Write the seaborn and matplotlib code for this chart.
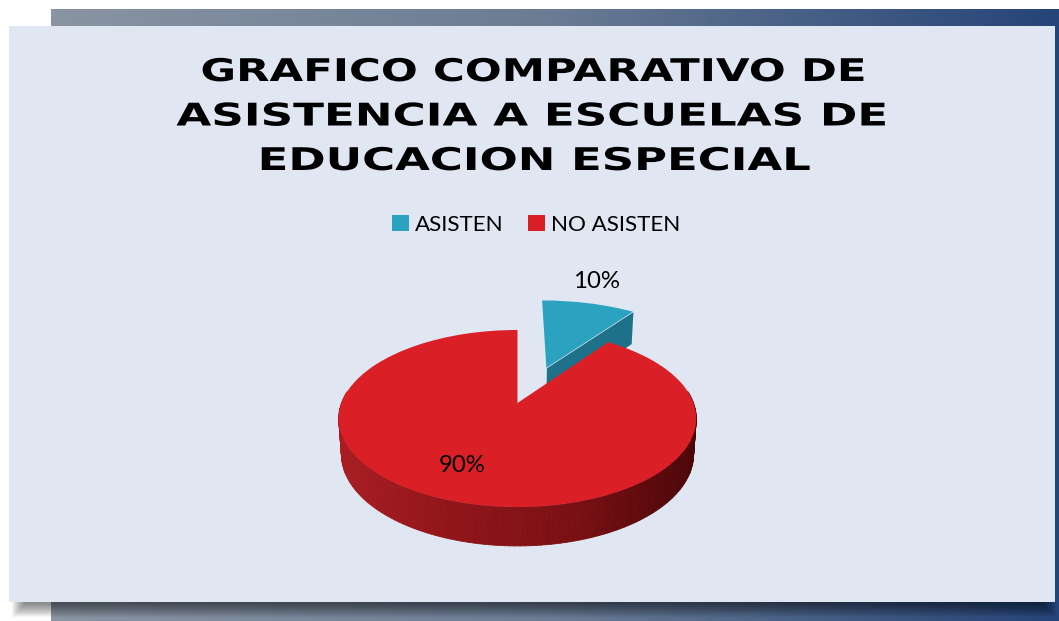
import numpy as np
import matplotlib
matplotlib.use("Agg")
import matplotlib.pyplot as plt
import matplotlib.patheffects as pe
import matplotlib.transforms as mtransforms
from matplotlib.collections import PolyCollection
from matplotlib.patches import Rectangle
import seaborn as sns

categories = ["ASISTEN", "NO ASISTEN"]
values = [10, 90]
title_lines = [
    "GRAFICO COMPARATIVO DE",
    "ASISTENCIA A ESCUELAS DE",
    "EDUCACION ESPECIAL",
]

W, H = 1059, 621
PANEL = "#e0e7f3"
TOP_COLORS = ["#2ca2c1", "#da1f26"]
BLUE_SIDE = "#1f7189"

# ellipse of the tilted pie, in pixels
CX, CY = 517.5, 403
RX, RY = 176, 85.8
PERSP = 0.175


class TiltTransform(mtransforms.Transform):
    """Unit pie coords to picture pixels, level 0 = top face, 1 = bottom face."""

    input_dims = output_dims = 2
    is_affine = False

    def __init__(self, level=0):
        super().__init__()
        self.level = level

    def transform_non_affine(self, values):
        x, y = np.asarray(values).T
        w = 1 + PERSP * y
        px = RX * x / w
        py = RY * y / w
        drop = 35.2 - 0.036 * py
        return np.column_stack(
            (CX + px * (1 - 0.015 * self.level), CY - py + self.level * drop)
        )


class StretchX(pe.AbstractPathEffect):
    # wide look of the title font, glyphs are scaled about the middle of the text
    def __init__(self, factor, center):
        super().__init__()
        self.factor = factor
        self.center = center

    def draw_path(self, renderer, gc, tpath, affine, rgbFace=None):
        stretch = (
            mtransforms.Affine2D()
            .translate(-self.center, 0)
            .scale(self.factor, 1)
            .translate(self.center, 0)
        )
        renderer.draw_path(gc, tpath, affine + stretch, rgbFace)


sns.set_theme(style="white")
plt.rcParams["font.family"] = ["Lato", "DejaVu Sans"]

fig = plt.figure(figsize=(W / 100, H / 100), dpi=100, facecolor="white")
ax = fig.add_axes([0, 0, 1, 1])

wedges, _, autotexts = ax.pie(
    values,
    explode=(0.475, 0),
    colors=TOP_COLORS,
    startangle=90,
    counterclock=False,
    autopct="%.0f%%",
    wedgeprops={"linewidth": 0, "zorder": 6},
    textprops={"fontsize": 17.3, "color": "black", "zorder": 8},
)
ax.set_aspect("auto")

top = TiltTransform(0)
bottom = TiltTransform(1)
for w in wedges:
    w.set_transform(top + ax.transData)
autotexts[0].set_position((597, 282))
autotexts[1].set_position((462, 466))

# blue slice sits a bit larger and further right in the picture
blue = wedges[0]
blue.set_zorder(4)
blue.set_radius(1.07)
blue.set_center((blue.center[0] + 0.03, blue.center[1] - 0.01))

# background band and panel
band = sns.blend_palette(["#8a94a3", "#6a7b93", "#264478"], as_cmap=True)
ax.imshow(
    np.linspace(0, 1, 256)[None, :],
    cmap=band,
    extent=(51, W, H, 9),
    aspect="auto",
    zorder=0,
)
for i in range(14):
    ax.add_patch(
        Rectangle(
            (12 + i, 30), W - 15 - 2 * i, 587 - i, fc="black", alpha=0.04, lw=0, zorder=1
        )
    )
ax.add_patch(Rectangle((9, 26), 1046, 576, fc=PANEL, lw=0, zorder=2))

# blue slice, cut face seen from the front
c = np.array(blue.center)
tip = c + blue.r * np.array(
    [np.cos(np.radians(blue.theta1)), np.sin(np.radians(blue.theta1))]
)
quad = np.vstack(
    [
        top.transform(np.array([c, tip])),
        bottom.transform(np.array([tip, c])),
    ]
)
ax.add_collection(PolyCollection([quad], facecolors=BLUE_SIDE, linewidths=0, zorder=3))

# red slice, outer wall in front
angles = np.radians(np.linspace(172, 368, 140))
ring = np.column_stack((np.cos(angles), np.sin(angles)))
upper = top.transform(ring)
lower = bottom.transform(ring)
side_cmap = sns.blend_palette(
    ["#a81d22", "#8f1519", "#7a1014", "#4c0608"], as_cmap=True
)
quads = [
    np.vstack((upper[i], upper[i + 1], lower[i + 1], lower[i]))
    for i in range(len(ring) - 1)
]
mid_x = (upper[:-1, 0] + upper[1:, 0]) / 2
shade = side_cmap((mid_x - mid_x.min()) / (mid_x.max() - mid_x.min()))
ax.add_collection(
    PolyCollection(quads, facecolors=shade, edgecolors=shade, linewidths=0.6, zorder=5)
)

# title
baselines = [81, 125.5, 170]
stretches = [1.39, 1.445, 1.438]
centers = [533, 532, 534]
for line, base, factor, mid in zip(title_lines, baselines, stretches, centers):
    ax.text(
        mid,
        base,
        line,
        ha="center",
        va="baseline",
        family="DejaVu Sans",
        fontweight="bold",
        fontsize=22.5,
        color="black",
        zorder=8,
        path_effects=[StretchX(factor, mid)],
    )

ax.legend(
    wedges,
    categories,
    ncol=2,
    loc="center",
    bbox_to_anchor=(536.5 / W, 1 - 225 / H),
    frameon=False,
    fontsize=16.1,
    handlelength=0.72,
    handleheight=0.72,
    handletextpad=0.3,
    columnspacing=1.1,
    labelcolor="black",
)

ax.set(xlim=(0, W), ylim=(H, 0))
ax.axis("off")
fig.savefig("out.png", dpi=100)
